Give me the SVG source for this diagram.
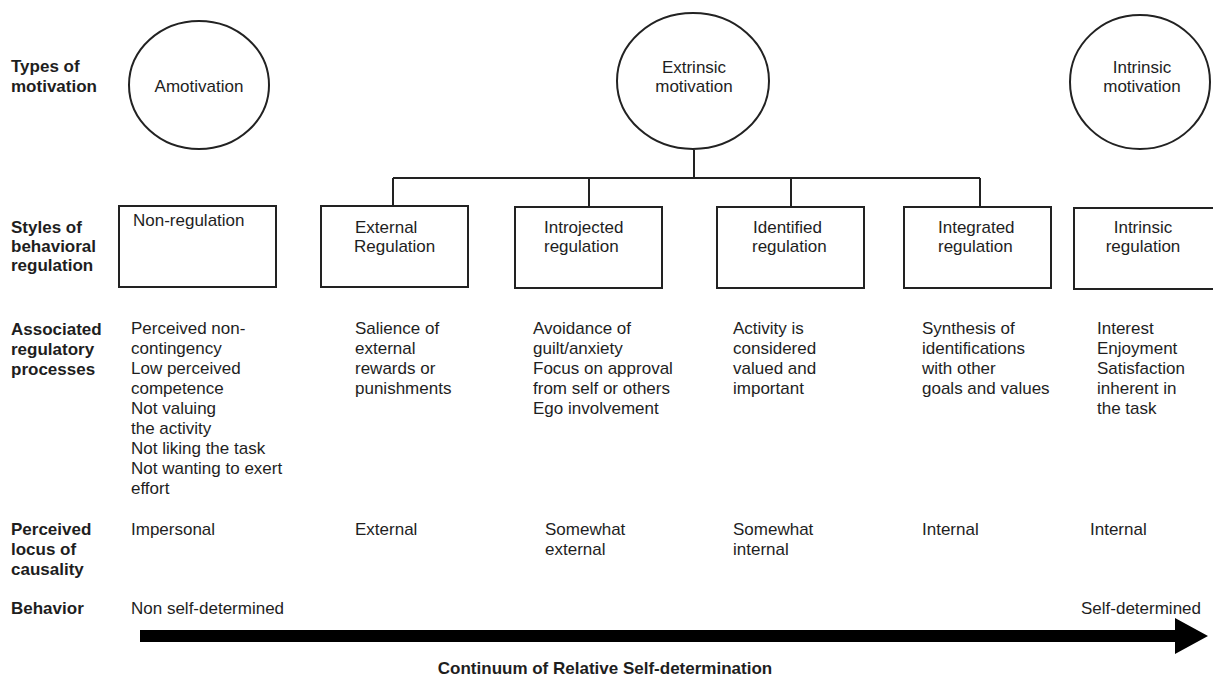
<svg xmlns="http://www.w3.org/2000/svg" width="1213" height="679" viewBox="0 0 1213 679">
<style>
text{font-family:"Liberation Sans",Arial,sans-serif;font-size:17px;fill:#1e1e1e}
.lab{font-weight:bold}
.c{text-anchor:middle}
.shape{fill:#fff;stroke:#222;stroke-width:2}
.conn{fill:none;stroke:#222;stroke-width:2}
</style>
<rect width="1213" height="679" fill="#fff"/>
<g id="row-labels">
<text class="lab" x="11" y="72">Types of</text>
<text class="lab" x="11" y="92">motivation</text>
<text class="lab" x="11" y="233">Styles of</text>
<text class="lab" x="11" y="252">behavioral</text>
<text class="lab" x="11" y="271">regulation</text>
<text class="lab" x="11" y="335">Associated</text>
<text class="lab" x="11" y="355">regulatory</text>
<text class="lab" x="11" y="375">processes</text>
<text class="lab" x="11" y="535">Perceived</text>
<text class="lab" x="11" y="555">locus of</text>
<text class="lab" x="11" y="575">causality</text>
<text class="lab" x="11" y="614">Behavior</text>
</g>
<g id="connectors">
<path class="conn" d="M694 150V178M393 178H980M393 178V206M589 178V207M791 178V207M980 178V207"/>
</g>
<g id="amotivation">
<ellipse class="shape" cx="199" cy="85" rx="70" ry="64"/>
<text class="c" x="199" y="92">Amotivation</text>
</g>
<g id="extrinsic">
<ellipse class="shape" cx="693" cy="81" rx="76" ry="68"/>
<text class="c" x="694" y="73">Extrinsic</text>
<text class="c" x="694" y="92">motivation</text>
</g>
<g id="intrinsic">
<ellipse class="shape" cx="1140" cy="82" rx="70" ry="67"/>
<text class="c" x="1142" y="73">Intrinsic</text>
<text class="c" x="1142" y="92">motivation</text>
</g>
<g id="non-regulation">
<rect class="shape" x="119" y="206" width="157" height="81"/>
<text x="133" y="226">Non-regulation</text>
</g>
<g id="external-regulation">
<rect class="shape" x="321" y="206" width="147" height="81"/>
<text x="355" y="233">External</text>
<text x="354" y="252">Regulation</text>
</g>
<g id="introjected-regulation">
<rect class="shape" x="515" y="207" width="147" height="81"/>
<text x="544" y="233">Introjected</text>
<text x="544" y="252">regulation</text>
</g>
<g id="identified-regulation">
<rect class="shape" x="717" y="207" width="147" height="81"/>
<text x="753" y="233">Identified</text>
<text x="752" y="252">regulation</text>
</g>
<g id="integrated-regulation">
<rect class="shape" x="904" y="207" width="147" height="81"/>
<text x="938" y="233">Integrated</text>
<text x="938" y="252">regulation</text>
</g>
<g id="intrinsic-regulation">
<rect class="shape" x="1074" y="208" width="140" height="81"/>
<text class="c" x="1143" y="233">Intrinsic</text>
<text class="c" x="1143" y="252">regulation</text>
</g>
<g id="processes">
<text x="131" y="334">Perceived non-</text>
<text x="131" y="354">contingency</text>
<text x="131" y="374">Low perceived</text>
<text x="131" y="394">competence</text>
<text x="131" y="414">Not valuing</text>
<text x="131" y="434">the activity</text>
<text x="131" y="454">Not liking the task</text>
<text x="131" y="474">Not wanting to exert</text>
<text x="131" y="494">effort</text>
<text x="355" y="334">Salience of</text>
<text x="355" y="354">external</text>
<text x="355" y="374">rewards or</text>
<text x="355" y="394">punishments</text>
<text x="533" y="334">Avoidance of</text>
<text x="533" y="354">guilt/anxiety</text>
<text x="533" y="374">Focus on approval</text>
<text x="533" y="394">from self or others</text>
<text x="533" y="414">Ego involvement</text>
<text x="733" y="334">Activity is</text>
<text x="733" y="354">considered</text>
<text x="733" y="374">valued and</text>
<text x="733" y="394">important</text>
<text x="922" y="334">Synthesis of</text>
<text x="922" y="354">identifications</text>
<text x="922" y="374">with other</text>
<text x="922" y="394">goals and values</text>
<text x="1097" y="334">Interest</text>
<text x="1097" y="354">Enjoyment</text>
<text x="1097" y="374">Satisfaction</text>
<text x="1097" y="394">inherent in</text>
<text x="1097" y="414">the task</text>
</g>
<g id="locus">
<text x="131" y="535">Impersonal</text>
<text x="355" y="535">External</text>
<text x="545" y="535">Somewhat</text>
<text x="545" y="555">external</text>
<text x="733" y="535">Somewhat</text>
<text x="733" y="555">internal</text>
<text x="922" y="535">Internal</text>
<text x="1090" y="535">Internal</text>
</g>
<g id="behavior">
<text x="131" y="614">Non self-determined</text>
<text x="1201" y="614" text-anchor="end">Self-determined</text>
<polygon fill="#000" points="140,630 1175,630 1175,618 1208,636 1175,654 1175,642 140,642"/>
<text class="lab c" x="605" y="674">Continuum of Relative Self-determination</text>
</g>
</svg>
